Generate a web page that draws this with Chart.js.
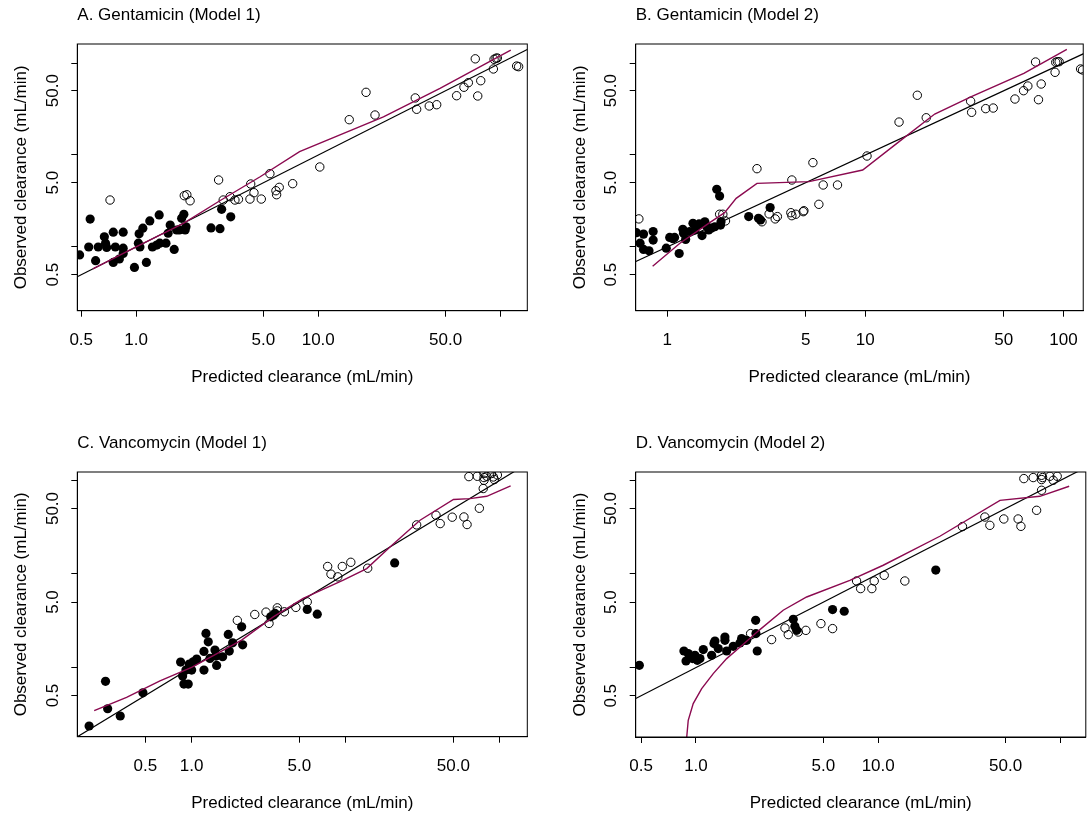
<!DOCTYPE html>
<html>
<head>
<meta charset="utf-8">
<script src="https://cdn.jsdelivr.net/npm/chart.js@4.4.1/dist/chart.umd.min.js"></script>
<style>
  html, body { margin: 0; padding: 0; background: #fff; }
  body { width: 1091px; height: 817px; position: relative; overflow: hidden; }
  canvas { position: absolute; }
</style>
</head>
<body>
<canvas id="pA"></canvas>
<canvas id="pB"></canvas>
<canvas id="pC"></canvas>
<canvas id="pD"></canvas>
<script>
// ---- data ----
// A. Gentamicin (Model 1)
const aFilledX = [0.49, 0.56, 0.55, 0.60, 0.62, 0.67, 0.68, 0.69, 0.75, 0.75, 0.77, 0.81, 0.85, 0.85, 0.85, 0.98, 1.03, 1.04, 1.05, 1.09, 1.14, 1.19, 1.23, 1.30, 1.34, 1.35, 1.46, 1.50, 1.54, 1.62, 1.67, 1.73, 1.78, 1.83, 1.86, 1.88, 2.58, 2.89, 2.95, 3.31];
const aFilledY = [0.82, 2.01, 1.00, 0.71, 1.00, 1.29, 1.10, 0.99, 1.45, 0.68, 1.00, 0.74, 1.45, 0.97, 0.85, 0.60, 1.10, 1.39, 1.00, 1.60, 0.68, 1.92, 1.00, 1.05, 2.23, 1.10, 1.10, 1.41, 1.73, 0.94, 1.53, 1.53, 2.05, 2.27, 1.53, 1.66, 1.61, 1.58, 2.57, 2.13];
const aOpenX = [0.72, 1.84, 1.90, 1.98, 2.84, 3.01, 3.28, 3.49, 3.65, 4.26, 4.22, 4.44, 4.87, 5.43, 5.86, 5.91, 6.11, 7.24, 10.2, 14.8, 18.3, 20.5, 34.1, 34.7, 40.7, 44.7, 57.5, 63.1, 66.7, 72.8, 75.1, 78.0, 91.5, 92.3, 94.6, 96.2, 122.8, 125.9];
const aOpenY = [3.24, 3.61, 3.70, 3.18, 5.35, 3.24, 3.52, 3.24, 3.30, 4.84, 3.32, 3.89, 3.32, 6.27, 4.09, 3.70, 4.45, 4.88, 7.41, 24.2, 48.0, 27.2, 41.7, 31.4, 34.1, 35.2, 44.1, 54.5, 61.1, 111, 43.8, 64.2, 86.1, 109.7, 112.5, 113.3, 92.7, 91.2];
const aSmoothX = [0.58, 1.0, 1.82, 2.9, 4.8, 7.9, 22.8, 46.6, 114];
const aSmoothY = [0.58, 1.0, 1.81, 3.2, 5.8, 10.9, 26, 53, 138];

// B. Gentamicin (Model 2)
const bFilledX = [0.70, 0.73, 0.76, 0.76, 0.81, 0.85, 0.85, 0.99, 1.03, 1.07, 1.09, 1.15, 1.20, 1.21, 1.24, 1.30, 1.35, 1.38, 1.40, 1.45, 1.50, 1.55, 1.58, 1.62, 1.67, 1.74, 1.78, 1.84, 1.86, 1.87, 2.58, 2.89, 2.96, 3.31];
const bFilledY = [1.43, 1.10, 1.38, 0.94, 0.91, 1.47, 1.19, 0.97, 1.27, 1.23, 1.27, 0.85, 1.56, 1.41, 1.21, 1.47, 1.81, 1.53, 1.66, 1.78, 1.33, 1.88, 1.69, 1.53, 1.60, 1.66, 4.24, 3.58, 1.73, 1.88, 2.14, 2.05, 1.97, 2.68];
const bOpenX = [0.72, 1.84, 1.91, 1.97, 2.84, 3.27, 3.01, 3.51, 3.60, 4.21, 4.26, 4.26, 4.46, 4.86, 4.90, 5.44, 5.83, 6.13, 7.24, 10.2, 14.8, 18.3, 20.3, 34.0, 34.4, 40.5, 44.2, 56.9, 62.9, 66.1, 72.3, 74.8, 77.2, 90.7, 91.4, 93.2, 95.1, 122, 124.8];
const bOpenY = [2.02, 2.27, 2.27, 1.92, 7.10, 2.29, 1.88, 2.02, 2.14, 2.36, 2.19, 5.35, 2.27, 2.42, 2.48, 8.26, 2.91, 4.72, 4.72, 9.75, 22.8, 44.6, 25.4, 38.4, 29.1, 31.9, 32.4, 40.6, 50.0, 56.2, 102.5, 39.9, 59.1, 79.2, 101.7, 103.3, 103.3, 86.1, 84.0];
const bSmoothX = [0.845, 1.16, 1.64, 1.95, 2.23, 2.84, 5.2, 9.7, 14.7, 22.4, 34.3, 63.1, 104];
const bSmoothY = [0.617, 1.10, 1.84, 2.36, 3.38, 4.92, 5.13, 6.87, 13.8, 27.9, 43, 77.3, 141];

// C. Vancomycin (Model 1)
const cFilledX = [0.216, 0.276, 0.285, 0.344, 0.483, 0.848, 0.874, 0.891, 0.918, 0.95, 0.965, 1.0, 1.024, 1.078, 1.202, 1.202, 1.239, 1.282, 1.315, 1.417, 1.438, 1.453, 1.589, 1.729, 1.755, 1.846, 2.112, 2.144, 3.26, 3.39, 3.48, 5.63, 6.54, 20.8];
const cFilledY = [0.236, 0.709, 0.361, 0.302, 0.535, 1.139, 0.807, 0.663, 0.936, 0.663, 1.085, 0.936, 1.148, 1.227, 0.936, 1.482, 2.308, 1.877, 1.248, 1.53, 1.32, 1.05, 1.30, 2.25, 1.493, 1.832, 2.716, 1.744, 3.47, 3.62, 3.78, 4.17, 3.71, 13.1];
const cOpenX = [1.98, 2.57, 3.04, 3.18, 3.60, 3.60, 4.0, 4.75, 5.63, 7.64, 8.03, 8.89, 9.51, 10.8, 13.9, 28.9, 38.6, 41.1, 49.2, 58.6, 61.4, 73.8, 63.1, 71.6, 79.1, 79.1, 79.1, 82.4, 88.3, 91.0, 92.3, 96.6, 78.2];
const cOpenY = [3.18, 3.68, 3.90, 2.95, 4.33, 4.02, 3.93, 4.38, 5.02, 12.0, 9.93, 9.29, 12.0, 13.3, 11.5, 33.4, 42.4, 34.5, 40.4, 40.6, 33.7, 50.3, 109.7, 110.6, 118.3, 107.2, 100.2, 110.6, 118.3, 108.7, 102, 114, 81.8];
const cSmoothX = [0.233, 0.378, 0.623, 1.0, 1.688, 2.11, 3.39, 5.3, 9.65, 13.7, 19.4, 30.4, 50.1, 64.2, 82.4, 117.8];
const cSmoothY = [0.344, 0.478, 0.719, 1.0, 1.596, 1.957, 3.47, 5.46, 8.56, 11.4, 19.4, 37.5, 62.4, 63.8, 67.6, 87.1];

// D. Vancomycin (Model 2)
const dFilledX = [0.489, 0.859, 0.882, 0.907, 0.927, 0.959, 0.987, 1.017, 1.052, 1.097, 1.219, 1.255, 1.271, 1.325, 1.442, 1.442, 1.474, 1.602, 1.743, 1.781, 1.857, 1.897, 2.126, 2.134, 2.169, 3.42, 3.49, 3.57, 5.62, 6.51, 20.7];
const dFilledY = [1.058, 1.504, 1.176, 1.411, 1.298, 1.248, 1.353, 1.197, 1.248, 1.557, 1.353, 1.805, 1.924, 1.596, 2.12, 1.957, 1.504, 1.689, 1.832, 2.04, 1.957, 1.957, 3.2, 2.308, 1.504, 3.28, 2.76, 2.5, 4.17, 4.0, 11.0];
const dOpenX = [1.995, 2.6, 3.08, 3.21, 3.64, 4.01, 4.85, 5.62, 7.61, 8.01, 9.23, 9.51, 10.79, 14.0, 29.0, 38.5, 41.0, 48.9, 58.6, 60.7, 74.0, 63.0, 70.9, 78.8, 78.8, 78.8, 87.5, 91.3, 96.0, 79.8];
const dOpenY = [2.308, 1.991, 2.65, 2.25, 2.4, 2.5, 2.95, 2.61, 8.42, 6.98, 6.98, 8.42, 9.68, 8.42, 32.1, 40.6, 33.1, 38.7, 38.7, 32.3, 47.9, 104.5, 107.2, 113.3, 102, 78.4, 110.6, 100.2, 110.6, 107.2];
const dSmoothX = [0.88, 0.889, 0.907, 0.966, 1.075, 1.244, 1.474, 1.818, 2.244, 3.01, 4.05, 6.99, 10.66, 21.8, 46.6, 77.1, 111.7];
const dSmoothY = [0.12, 0.177, 0.2735, 0.4125, 0.5965, 0.863, 1.248, 1.774, 2.547, 4.1, 5.68, 8.56, 12.4, 25.3, 61.2, 67.6, 86.5];

// identity line y = x
const identity = [0.1, 200];

// ---- ticks ----
const logTicks = [0.5, 1, 5, 10, 50, 100];
const yLabels = ['0.5', '', '5.0', '', '50.0', ''];
const xLabelsA = ['0.5', '1.0', '5.0', '10.0', '50.0', ''];
const xLabelsB = ['1', '5', '10', '50', '100'];
const xTicksB = [1, 5, 10, 50, 100];
const xLabelsC = ['0.5', '1.0', '5.0', '', '50.0', ''];
const xLabelsD = ['0.5', '1.0', '5.0', '10.0', '50.0', ''];

// ---- drawing ----
Chart.defaults.font.family = '"Liberation Sans", Arial, Helvetica, sans-serif';
Chart.defaults.font.size = 17;
Chart.defaults.color = '#000';

const pts = (xs, ys) => xs.map((x, i) => ({ x: x, y: ys[i] }));

// R style frame around the plot region
const boxPlugin = {
  id: 'box',
  afterDatasetsDraw(chart) {
    const a = chart.chartArea, ctx = chart.ctx;
    ctx.save();
    ctx.strokeStyle = '#000';
    ctx.lineWidth = 1;
    ctx.strokeRect(a.left, a.top, a.right - a.left, a.bottom - a.top);
    ctx.restore();
  }
};

function makePanel(p) {
  const cv = document.getElementById(p.id);
  cv.width = p.w; cv.height = p.h;
  cv.style.left = p.left + 'px'; cv.style.top = p.top + 'px';
  cv.style.width = p.w + 'px'; cv.style.height = p.h + 'px';

  new Chart(cv.getContext('2d'), {
    type: 'scatter',
    data: {
      datasets: [
        { data: pts(p.sx, p.sy), showLine: true, borderColor: '#8b0a50', borderWidth: 1.4, pointRadius: 0, tension: 0, clip: 0 },
        { data: pts(identity, identity), showLine: true, borderColor: '#000', borderWidth: 1.2, pointRadius: 0, clip: 0 },
        { data: pts(p.ox, p.oy), pointRadius: 4.2, pointBackgroundColor: 'rgba(0,0,0,0)', pointBorderColor: '#000', pointBorderWidth: 1 },
        { data: pts(p.fx, p.fy), pointRadius: 4.6, pointBackgroundColor: '#000', pointBorderColor: '#000', pointBorderWidth: 0 }
      ]
    },
    options: {
      responsive: false,
      animation: false,
      events: [],
      layout: { padding: { top: 0, left: 0, bottom: 0, right: p.padRight } },
      plugins: {
        legend: { display: false },
        tooltip: { enabled: false },
        title: {
          display: true, text: p.title, align: 'start', fullSize: false, color: '#000',
          font: { size: 17, weight: 'normal' },
          padding: { top: 4.8, bottom: 18.8 }
        }
      },
      scales: {
        x: {
          type: 'logarithmic', min: p.xMin, max: p.xMax,
          afterFit: s => { s.height = p.xAxisH; },
          afterBuildTicks: s => { s.ticks = p.xTicks.map(v => ({ value: v })); },
          ticks: { autoSkip: false, minRotation: 0, maxRotation: 0, padding: 13, color: '#000',
                   callback: (v, i) => p.xLabels[i] },
          grid: { display: true, drawOnChartArea: false, drawTicks: true, tickLength: 6, color: '#000', lineWidth: 1 },
          border: { display: true, color: '#000', width: 1 },
          title: { display: true, text: 'Predicted clearance (mL/min)', color: '#000',
                   padding: { top: 0, bottom: p.xAxisH - 77 } }
        },
        y: {
          type: 'logarithmic', min: p.yMin, max: p.yMax,
          afterFit: s => { s.width = p.yAxisW; },
          afterBuildTicks: s => { s.ticks = logTicks.map(v => ({ value: v })); },
          ticks: { autoSkip: false, minRotation: 90, maxRotation: 90, crossAlign: 'center', padding: 1.5, color: '#000',
                   callback: (v, i) => yLabels[i] },
          grid: { display: true, drawOnChartArea: false, drawTicks: true, tickLength: 6, color: '#000', lineWidth: 1 },
          border: { display: true, color: '#000', width: 1 },
          title: { display: true, text: 'Observed clearance (mL/min)', color: '#000',
                   padding: { top: p.yAxisW - 66, bottom: 0 } }
        }
      }
    },
    plugins: [boxPlugin]
  });
}

makePanel({ id: 'pA', title: 'A. Gentamicin (Model 1)', left: 0, top: 0, w: 545, h: 408,
  yAxisW: 77.3, padRight: 17.7, xAxisH: 97.3,
  xMin: 0.476, xMax: 140.5, yMin: 0.203, yMax: 160.9,
  xTicks: logTicks, xLabels: xLabelsA,
  fx: aFilledX, fy: aFilledY, ox: aOpenX, oy: aOpenY, sx: aSmoothX, sy: aSmoothY });

makePanel({ id: 'pB', title: 'B. Gentamicin (Model 2)', left: 546, top: 0, w: 545, h: 408,
  yAxisW: 89.7, padRight: 5, xAxisH: 97.3,
  xMin: 0.694, xMax: 125.8, yMin: 0.203, yMax: 160.9,
  xTicks: xTicksB, xLabels: xLabelsB,
  fx: bFilledX, fy: bFilledY, ox: bOpenX, oy: bOpenY, sx: bSmoothX, sy: bSmoothY });

makePanel({ id: 'pC', title: 'C. Vancomycin (Model 1)', left: 0, top: 427.7, w: 545, h: 389.3,
  yAxisW: 77.3, padRight: 17.7, xAxisH: 80.3,
  xMin: 0.181, xMax: 151.1, yMin: 0.1814, yMax: 122.9,
  xTicks: logTicks, xLabels: xLabelsC,
  fx: cFilledX, fy: cFilledY, ox: cOpenX, oy: cOpenY, sx: cSmoothX, sy: cSmoothY });

makePanel({ id: 'pD', title: 'D. Vancomycin (Model 2)', left: 546, top: 427.7, w: 545, h: 389.3,
  yAxisW: 89.7, padRight: 5, xAxisH: 80,
  xMin: 0.467, xMax: 137.8, yMin: 0.1814, yMax: 122.9,
  xTicks: logTicks, xLabels: xLabelsD,
  fx: dFilledX, fy: dFilledY, ox: dOpenX, oy: dOpenY, sx: dSmoothX, sy: dSmoothY });
</script>
</body>
</html>
